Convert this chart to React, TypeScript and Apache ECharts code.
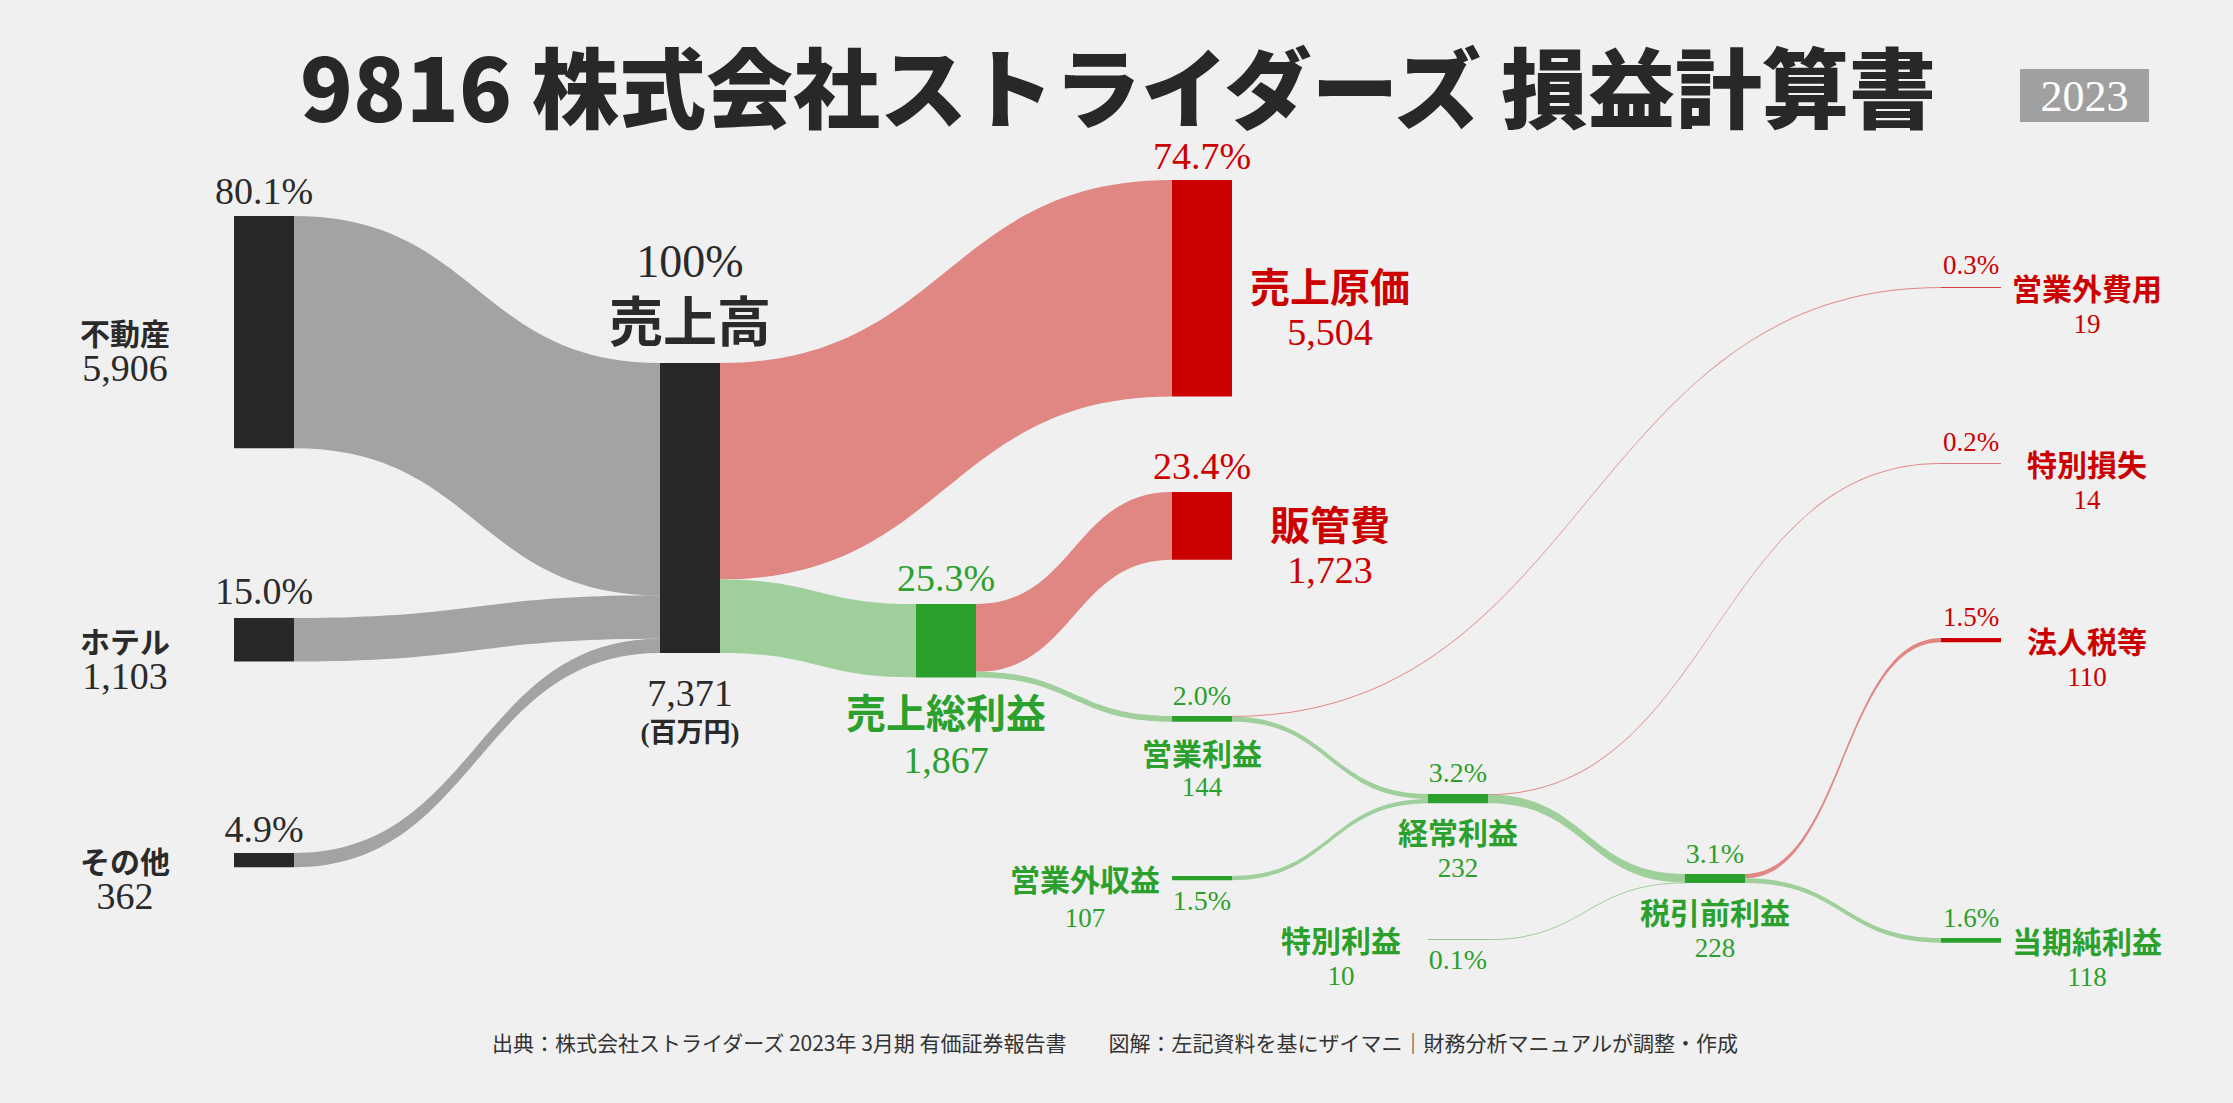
import React, { useEffect, useRef } from 'react';
import * as echarts from 'echarts';

// ---------------- DATA (百万円) ----------------
const nodeNames = ['不動産', 'ホテル', 'その他', '売上高', '売上原価', '売上総利益', '営業外費用', '特別損失', '販管費', '法人税等', '営業利益', '経常利益', '営業外収益', '税引前利益', '特別利益', '当期純利益'];
const nodeValues = [5906, 1103, 362, 7371, 5504, 1867, 19, 14, 1723, 110, 144, 232, 107, 228, 10, 118];
const nodeShares = [80.1, 15.0, 4.9, 100, 74.7, 25.3, 0.3, 0.2, 23.4, 1.5, 2.0, 3.2, 1.5, 3.1, 0.1, 1.6];
const nodeKinds = ['segment', 'segment', 'segment', 'segment', 'cost', 'profit', 'cost', 'cost', 'cost', 'cost', 'profit', 'profit', 'profit', 'profit', 'profit', 'profit'];

const segmentValues = [5906, 1103, 362];
const operatingProfit = 144;
const nonOperatingExpense = 19;
const ordinaryProfit = 232;
const extraordinaryLoss = 14;

const linkSources = ['不動産', 'ホテル', 'その他', '売上高', '売上高', '売上総利益', '売上総利益', '営業利益', '営業利益', '営業外収益', '経常利益', '経常利益', '特別利益', '税引前利益', '税引前利益'];
const linkTargets = ['売上高', '売上高', '売上高', '売上原価', '売上総利益', '販管費', '営業利益', '営業外費用', '経常利益', '経常利益', '特別損失', '税引前利益', '税引前利益', '法人税等', '当期純利益'];
const linkValues = [5906, 1103, 362, 5504, 1867, 1723, 144, nonOperatingExpense, operatingProfit - nonOperatingExpense, 107, extraordinaryLoss, ordinaryProfit - extraordinaryLoss, 10, 110, 118];

const titleText = '9816 株式会社ストライダーズ 損益計算書';
const yearText = '2023';
const unitText = '(百万円)';
const footerText = '出典：株式会社ストライダーズ 2023年 3月期 有価証券報告書　　図解：左記資料を基にザイマニ｜財務分析マニュアルが調整・作成';

// ---------------- LAYOUT / STYLE ----------------
const CHART_W = 2233;
const CHART_H = 1103;
const SANKEY_H = 310;
const NODE_GAP = 10;
const NODE_W = 60;
const nodeDepths = [0, 0, 0, 1, 2, 2, 3, 3, 3, 3, 3, 3, 3, 3, 3, 3];
const nodeLeft = [234, 234, 234, 660, 1172, 916, 1941, 1941, 1172, 1941, 1172, 1428, 1172, 1685, 1428, 1941];
const nodeTop = [216, 618, 853, 363, 180, 604, 287, 463, 492, 638, 716, 794, 876, 874, 939, 938];

const SERIF = "'Liberation Serif', 'Noto Sans CJK JP', serif";
const SANS = "'Noto Sans CJK JP', sans-serif";

const nodeColorOf: any = { segment: '#282828', cost: '#cc0000', profit: '#2ca02c' };
const linkColorOf: any = { segment: '#a3a3a3', cost: '#e08784', profit: '#9fcf9b' };
const textColorOf: any = { segment: '#2a2a2a', cost: '#cc0000', profit: '#2ca02c' };

const sideLeftBig = { mode: 'side', pos: [-109, '50%'], nameSize: 30, valueSize: 38, lh: 36 };
const sideRightBig = { mode: 'side', pos: [158, '50%'], nameSize: 40, valueSize: 38, lh: 47, offset: [0, -3] };
const sideRightSmall = { mode: 'side', pos: [146, '50%'], nameSize: 30, valueSize: 27, lh: 37 };
const labelSpecs: any[] = [
  sideLeftBig, sideLeftBig, sideLeftBig,
  { mode: 'top', gap: 15, pctSize: 46, nameSize: 54, lhP: 54, lhN: 60 },
  sideRightBig,
  { mode: 'below', gap: 10, nameSize: 40, valueSize: 38, lhN: 48, lhV: 50 },
  sideRightSmall, sideRightSmall,
  sideRightBig,
  sideRightSmall,
  { mode: 'below', gap: 13, nameSize: 30, valueSize: 27, lhN: 34, lhV: 36 },
  { mode: 'below', gap: 10, nameSize: 30, valueSize: 27, lhN: 36, lhV: 38 },
  { mode: 'side', pos: [-87, '50%'], nameSize: 30, valueSize: 27, lh: 40 },
  { mode: 'below', gap: 10, nameSize: 30, valueSize: 27, lhN: 36, lhV: 38 },
  { mode: 'side', pos: [-87, '50%'], nameSize: 30, valueSize: 27, lh: 37 },
  sideRightSmall,
];
// [placement, distance, fontSize]
const pctPlace: any[] = [
  ['above', 25, 38], ['above', 27, 38], ['above', 24, 38], null,
  ['above', 24, 38], ['above', 26, 38], ['above', 22, 27], ['above', 21, 27],
  ['above', 26, 38], ['above', 21, 27], ['above', 21, 28], ['above', 22, 28],
  ['below', 20, 28], ['above', 21, 28], ['below', 20, 28], ['above', 20, 27],
];

const fmtNum = (v: number) => v.toLocaleString('en-US');
const fmtPct = (v: number) => (v >= 100 ? String(v) : v.toFixed(1)) + '%';

function buildOption() {
  const total = segmentValues.reduce((a, b) => a + b, 0);
  const ky = (SANKEY_H - (segmentValues.length - 1) * NODE_GAP) / total;

  const data = nodeNames.map((name, i) => {
    const spec = labelSpecs[i];
    const color = textColorOf[nodeKinds[i]];
    let label: any;
    if (spec.mode === 'side') {
      label = {
        show: true,
        position: spec.pos,
        align: 'center',
        verticalAlign: 'middle',
        offset: spec.offset || [0, 0],
        formatter: `{e| }\n{n|${name}}\n{v|${fmtNum(nodeValues[i])}}`,
        rich: {
          e: { fontSize: 10, lineHeight: spec.lh },
          n: { fontSize: spec.nameSize, fontWeight: 'bold', fontFamily: SANS, color, lineHeight: spec.lh, align: 'center' },
          v: { fontSize: spec.valueSize, fontFamily: SERIF, color, lineHeight: spec.lh, align: 'center' },
        },
      };
    } else if (spec.mode === 'below') {
      label = {
        show: true,
        position: ['50%', '100%'],
        align: 'center',
        verticalAlign: 'top',
        offset: [0, spec.gap],
        formatter: `{n|${name}}\n{v|${fmtNum(nodeValues[i])}}`,
        rich: {
          n: { fontSize: spec.nameSize, fontWeight: 'bold', fontFamily: SANS, color, lineHeight: spec.lhN, align: 'center' },
          v: { fontSize: spec.valueSize, fontFamily: SERIF, color, lineHeight: spec.lhV, align: 'center' },
        },
      };
    } else {
      label = {
        show: true,
        position: ['50%', 0],
        align: 'center',
        verticalAlign: 'bottom',
        offset: [0, -spec.gap],
        formatter: `{p|${fmtPct(nodeShares[i])}}\n{n|${name}}`,
        rich: {
          p: { fontSize: spec.pctSize, fontFamily: SERIF, color, lineHeight: spec.lhP, align: 'center' },
          n: { fontSize: spec.nameSize, fontWeight: 'bold', fontFamily: SANS, color, lineHeight: spec.lhN, align: 'center' },
        },
      };
    }
    return {
      name,
      depth: nodeDepths[i],
      localX: nodeLeft[i] / CHART_W,
      localY: nodeTop[i] / SANKEY_H,
      itemStyle: { color: nodeColorOf[nodeKinds[i]], borderWidth: 0 },
      label,
    };
  });

  const links = linkSources.map((s, i) => {
    const t = linkTargets[i];
    const kind = nodeKinds[nodeNames.indexOf(t)];
    return {
      source: s,
      target: t,
      value: linkValues[i],
      lineStyle: { color: linkColorOf[kind], opacity: 1, curveness: 0.5 },
    };
  });

  const graphics: any[] = [];
  graphics.push({
    type: 'text', x: 1118, y: 84, silent: true,
    style: { text: titleText, fontSize: 87, fontWeight: 900, fontFamily: SANS, fill: '#282828', align: 'center', verticalAlign: 'middle' },
  });
  graphics.push({ type: 'rect', shape: { x: 2020, y: 69, width: 129, height: 53 }, style: { fill: '#a0a0a0' }, silent: true });
  graphics.push({
    type: 'text', x: 2084.5, y: 96, silent: true,
    style: { text: yearText, fontSize: 44, fontFamily: SERIF, fill: '#ffffff', align: 'center', verticalAlign: 'middle' },
  });
  graphics.push({
    type: 'text', x: 1115, y: 1042, silent: true,
    style: { text: footerText, fontSize: 21, fontFamily: SANS, fill: '#333333', align: 'center', verticalAlign: 'middle' },
  });

  nodeNames.forEach((_, i) => {
    const place = pctPlace[i];
    if (!place) return;
    const h = nodeValues[i] * ky;
    const x = nodeLeft[i] + NODE_W / 2;
    const y = place[0] === 'above' ? nodeTop[i] - place[1] : nodeTop[i] + h + place[1];
    graphics.push({
      type: 'text', x, y, silent: true,
      style: { text: fmtPct(nodeShares[i]), fontSize: place[2], fontFamily: SERIF, fill: textColorOf[nodeKinds[i]], align: 'center', verticalAlign: 'middle' },
    });
  });

  // total revenue value and unit under 売上高
  const rev = nodeNames.indexOf('売上高');
  const revBottom = nodeTop[rev] + nodeValues[rev] * ky;
  graphics.push({
    type: 'text', x: nodeLeft[rev] + NODE_W / 2, y: revBottom + 40, silent: true,
    style: { text: fmtNum(nodeValues[rev]), fontSize: 38, fontFamily: SERIF, fill: '#2a2a2a', align: 'center', verticalAlign: 'middle' },
  });
  graphics.push({
    type: 'text', x: nodeLeft[rev] + NODE_W / 2, y: revBottom + 80, silent: true,
    style: { text: unitText, fontSize: 27, fontWeight: 'bold', fontFamily: SERIF, fill: '#2a2a2a', align: 'center', verticalAlign: 'middle' },
  });

  return {
    animation: false,
    backgroundColor: '#f0f0f0',
    graphic: graphics,
    series: [
      {
        type: 'sankey',
        left: 0,
        top: 0,
        width: CHART_W,
        height: SANKEY_H,
        nodeWidth: NODE_W,
        nodeGap: NODE_GAP,
        nodeAlign: 'left',
        layoutIterations: 0,
        draggable: false,
        emphasis: { disabled: true },
        itemStyle: { borderWidth: 0 },
        lineStyle: { opacity: 1, curveness: 0.5 },
        data,
        links,
      },
    ],
  };
}

export default function App() {
  const ref = useRef<HTMLDivElement>(null);
  useEffect(() => {
    const chart = echarts.init(ref.current!, null, { renderer: 'svg' });
    chart.setOption(buildOption() as any);
    return () => chart.dispose();
  }, []);
  return <div ref={ref} style={{ position: 'fixed', left: 0, top: 0, width: CHART_W, height: CHART_H }} />;
}
